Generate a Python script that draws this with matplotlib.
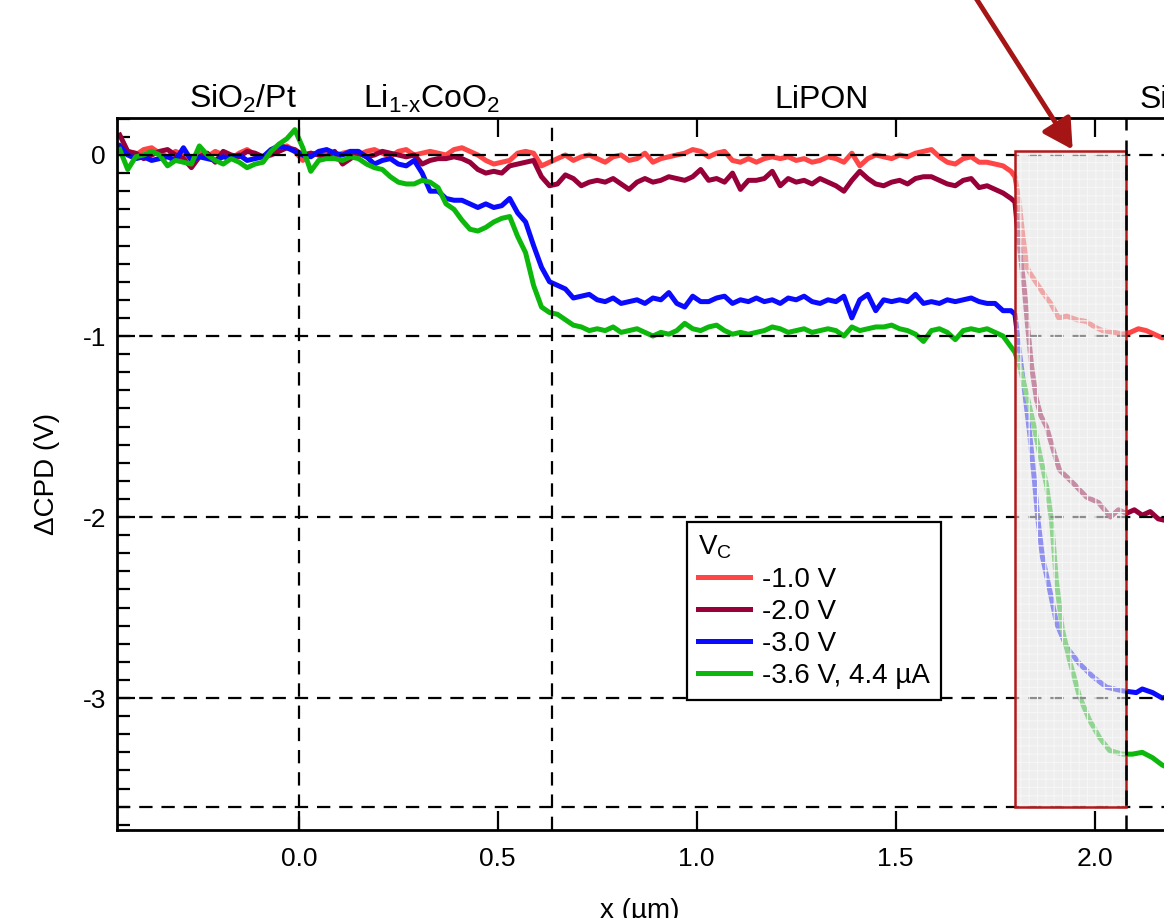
import numpy as np
import matplotlib
matplotlib.use("Agg")
import matplotlib.pyplot as plt
from matplotlib.patches import Rectangle
from matplotlib.ticker import MultipleLocator, FuncFormatter

plt.rcParams['font.family'] = ['Liberation Sans', 'DejaVu Sans']
plt.rcParams['mathtext.fontset'] = 'custom'
plt.rcParams['mathtext.rm'] = 'Liberation Sans'
plt.rcParams['mathtext.it'] = 'Liberation Sans:italic'
plt.rcParams['mathtext.default'] = 'regular'
plt.rcParams['axes.unicode_minus'] = False
plt.rcParams['hatch.linewidth'] = 0.8

# --- data (x in um, dCPD in V) ---
# flat part sampled every 0.02 um from -0.45 to 1.79
x_flat = np.linspace(-0.45, 1.79, 113)

red_flat = [0.05, 0.02, 0.00, 0.03, 0.04, 0.01, -0.01, 0.02, 0.00, -0.02,
            0.01, -0.01, 0.02, 0.00, -0.02, 0.01, 0.03, 0.00, -0.01, 0.02,
            0.04, 0.05, 0.02, -0.03, 0.01, 0.00, 0.02, -0.01, 0.01, 0.02,
            0.00, 0.02, 0.03, 0.01, -0.01, 0.02, 0.03, 0.00, 0.01, 0.02,
            0.01, 0.00, 0.03, 0.04, 0.02, 0.00, -0.03, -0.05, -0.04, -0.03,
            0.01, 0.02, 0.01, -0.06, -0.04, -0.02, 0.00, -0.03, -0.01, 0.00,
            -0.02, -0.04, -0.01, 0.00, -0.03, -0.02, 0.01, -0.04, -0.02, -0.01,
            0.00, 0.01, 0.03, 0.02, -0.01, 0.01, 0.02, -0.03, -0.04, -0.02,
            -0.04, -0.02, -0.01, -0.02, -0.01, -0.03, -0.02, -0.04, -0.03, -0.01,
            -0.02, -0.04, 0.01, -0.06, -0.02, 0.00, -0.01, -0.02, 0.00, -0.01,
            0.01, 0.02, 0.03, -0.01, -0.04, -0.05, -0.02, -0.01, -0.04, -0.04,
            -0.05, -0.06, -0.09]
red_tail_x = [1.80, 1.81, 1.82, 1.83, 1.84, 1.87, 1.89, 1.91, 1.93, 1.955,
              1.98, 2.00, 2.02, 2.05, 2.07, 2.09, 2.11, 2.13, 2.15, 2.17, 2.19]
red_tail_y = [-0.12, -0.25, -0.45, -0.62, -0.66, -0.76, -0.82, -0.90, -0.89, -0.91,
              -0.92, -0.95, -0.97, -0.98, -0.99, -0.98, -0.96, -0.97, -0.99, -1.01, -1.00]

maroon_flat = [0.11, 0.02, 0.01, -0.02, 0.00, 0.02, 0.03, 0.00, -0.02, -0.07,
               -0.01, 0.01, -0.04, 0.02, 0.00, -0.01, 0.02, 0.01, -0.01, 0.00,
               0.02, 0.04, 0.03, 0.00, 0.01, 0.00, -0.01, 0.02, -0.05, -0.02,
               0.01, -0.01, 0.00, 0.02, 0.01, 0.00, -0.01, 0.00, -0.05, -0.03,
               -0.02, -0.02, -0.01, -0.02, -0.04, -0.08, -0.10, -0.09, -0.10, -0.06,
               -0.05, -0.04, -0.03, -0.12, -0.17, -0.16, -0.11, -0.13, -0.17, -0.15,
               -0.14, -0.15, -0.13, -0.16, -0.19, -0.15, -0.13, -0.15, -0.14, -0.12,
               -0.13, -0.14, -0.12, -0.08, -0.14, -0.13, -0.15, -0.10, -0.19, -0.14,
               -0.14, -0.13, -0.09, -0.17, -0.13, -0.15, -0.14, -0.16, -0.13, -0.15,
               -0.17, -0.20, -0.14, -0.09, -0.13, -0.16, -0.17, -0.15, -0.14, -0.16,
               -0.13, -0.12, -0.12, -0.14, -0.16, -0.17, -0.14, -0.13, -0.18, -0.17,
               -0.19, -0.21, -0.24]
maroon_tail_x = [1.80, 1.805, 1.812, 1.824, 1.832, 1.842, 1.854, 1.865, 1.879, 1.899,
                 1.912, 1.945, 1.98, 2.01, 2.04, 2.06, 2.08, 2.10, 2.12, 2.14, 2.16, 2.18]
maroon_tail_y = [-0.26, -0.38, -0.52, -0.75, -0.95, -1.17, -1.35, -1.44, -1.50, -1.65,
                 -1.74, -1.81, -1.89, -1.92, -2.00, -1.96, -1.98, -1.96, -1.99, -1.97, -2.01, -2.02]

blue_flat = [0.05, 0.00, -0.02, -0.01, -0.03, -0.02, -0.01, -0.03, 0.04, -0.03,
             -0.01, -0.02, -0.03, -0.01, -0.02, 0.00, -0.03, -0.02, -0.01, 0.03,
             0.05, 0.04, 0.02, 0.00, -0.01, 0.02, 0.03, 0.01, 0.00, 0.02,
             0.02, -0.01, -0.05, -0.03, -0.02, -0.05, -0.06, -0.03, -0.10, -0.20,
             -0.20, -0.24, -0.25, -0.25, -0.27, -0.29, -0.27, -0.29, -0.28, -0.24,
             -0.32, -0.37, -0.50, -0.62, -0.70, -0.72, -0.74, -0.79, -0.78, -0.77,
             -0.80, -0.81, -0.79, -0.82, -0.81, -0.80, -0.82, -0.79, -0.80, -0.76,
             -0.82, -0.84, -0.78, -0.81, -0.81, -0.79, -0.78, -0.82, -0.80, -0.81,
             -0.79, -0.81, -0.80, -0.82, -0.79, -0.80, -0.78, -0.81, -0.82, -0.80,
             -0.81, -0.78, -0.90, -0.80, -0.77, -0.86, -0.80, -0.81, -0.80, -0.81,
             -0.77, -0.82, -0.81, -0.82, -0.80, -0.81, -0.80, -0.79, -0.81, -0.82,
             -0.82, -0.86, -0.86]
blue_tail_x = [1.80, 1.812, 1.825, 1.837, 1.849, 1.857, 1.869, 1.887, 1.905, 1.93,
               1.962, 1.995, 2.03, 2.07, 2.105, 2.12, 2.146, 2.17, 2.19]
blue_tail_y = [-0.88, -1.10, -1.32, -1.54, -1.80, -2.00, -2.22, -2.40, -2.59, -2.72,
               -2.81, -2.88, -2.94, -2.96, -2.97, -2.95, -2.97, -3.00, -2.99]

green_flat = [0.03, -0.08, -0.01, 0.00, 0.02, 0.00, -0.06, -0.03, -0.04, -0.05,
              0.05, 0.00, -0.03, -0.05, -0.02, -0.04, -0.07, -0.05, -0.04, 0.02,
              0.06, 0.09, 0.14, 0.04, -0.09, -0.03, -0.02, -0.02, -0.03, -0.01,
              -0.02, -0.05, -0.07, -0.08, -0.12, -0.15, -0.16, -0.16, -0.14, -0.15,
              -0.18, -0.27, -0.30, -0.36, -0.41, -0.42, -0.40, -0.37, -0.35, -0.34,
              -0.45, -0.54, -0.72, -0.84, -0.87, -0.88, -0.91, -0.94, -0.95, -0.97,
              -0.96, -0.97, -0.95, -0.98, -0.97, -0.96, -0.98, -1.00, -0.98, -0.99,
              -0.97, -0.93, -0.96, -0.97, -0.95, -0.94, -0.97, -0.99, -0.98, -0.99,
              -0.98, -0.97, -0.95, -0.96, -0.98, -0.97, -0.96, -0.98, -0.97, -0.96,
              -0.97, -1.00, -0.95, -0.97, -0.96, -0.95, -0.95, -0.94, -0.96, -0.97,
              -0.99, -1.03, -0.97, -0.96, -0.98, -1.02, -0.97, -0.96, -0.97, -0.96,
              -0.98, -1.00, -1.06]
green_tail_x = [1.80, 1.812, 1.829, 1.844, 1.862, 1.879, 1.892, 1.904, 1.919, 1.937,
                1.962, 1.987, 2.013, 2.038, 2.07, 2.095, 2.12, 2.146, 2.17, 2.19]
green_tail_y = [-1.09, -1.17, -1.32, -1.46, -1.65, -1.82, -2.02, -2.35, -2.62, -2.79,
                -2.99, -3.12, -3.22, -3.29, -3.31, -3.31, -3.30, -3.33, -3.37, -3.39]

labels = ["-1.0 V", "-2.0 V", "-3.0 V", "-3.6 V, 4.4 µA"]
colors = ["#ff4646", "#98003a", "#0a0aff", "#0cb80c"]

layer_names = ["SiO$_2$/Pt", r"Li$_{1\text{-}x}$CoO$_2$", "LiPON", "Si"]
layer_x = [-0.14, 0.334, 1.314, 2.113]
layer_ha = ["center", "center", "center", "left"]

hlines = [0, -1, -2, -3, -3.6]
vlines = [0, 0.636]
box_x = (1.799, 2.078)
box_y = (-3.6, 0.02)

# --- figur ---
fig = plt.figure(figsize=(11.64, 9.18), dpi=100)
ax = fig.add_axes([117 / 1164, 88 / 918, 1077 / 1164, 712 / 918])
ax.set_xlim(-0.457, 2.25)
ax.set_ylim(-3.729, 0.2044)

series = [(red_flat, red_tail_x, red_tail_y),
          (maroon_flat, maroon_tail_x, maroon_tail_y),
          (blue_flat, blue_tail_x, blue_tail_y),
          (green_flat, green_tail_x, green_tail_y)]
handles = []
for (flat, tx, ty), c, lab in zip(series, colors, labels):
    xs = np.concatenate([x_flat, tx])
    ys = np.concatenate([flat, ty])
    h, = ax.plot(xs, ys, color=c, lw=3.6, label=lab, zorder=2,
                 solid_joinstyle='round')
    handles.append(h)

dash = (0, (6, 4))
for y in hlines:
    ax.axhline(y, color='black', lw=1.6, ls=dash, zorder=3)
for x in vlines:
    ax.axvline(x, color='black', lw=1.6, ls=dash, zorder=3)

# graa boks over overgangen
w = box_x[1] - box_x[0]
h = box_y[1] - box_y[0]
ax.add_patch(Rectangle((box_x[0], box_y[0]), w, h, facecolor='#e4e4e4',
                       alpha=0.62, edgecolor='none', zorder=4))
ax.add_patch(Rectangle((box_x[0], box_y[0]), w, h, fill=False, hatch='++',
                       edgecolor='#f6f6f6', lw=0, zorder=4.1))
ax.add_patch(Rectangle((box_x[0], box_y[0]), w, h, fill=False,
                       edgecolor='#b3191b', lw=1.8, zorder=4.2))
ax.axvline(box_x[1], color='black', lw=1.8, ls=dash, zorder=4.5)

# pil
ax.annotate('', xy=(1.945, 0.03), xytext=(1.698, 0.88),
            arrowprops=dict(arrowstyle='-|>,head_length=0.9,head_width=0.5',
                            color='#a51515', lw=3.5, mutation_scale=20,
                            shrinkA=0, shrinkB=0),
            annotation_clip=False, zorder=6)

for name, x, ha in zip(layer_names, layer_x, layer_ha):
    ax.text(x, 1.014, name, transform=ax.get_xaxis_transform(), ha=ha,
            va='baseline', fontsize=23, clip_on=False)

# akser
for side in ['left', 'top', 'bottom', 'right']:
    ax.spines[side].set_linewidth(2)
ax.xaxis.set_major_locator(MultipleLocator(0.5))
ax.xaxis.set_major_formatter(FuncFormatter(lambda v, p: f"{v:.1f}"))
ax.yaxis.set_major_locator(MultipleLocator(1))
ax.yaxis.set_minor_locator(MultipleLocator(0.1))
ax.yaxis.set_major_formatter(FuncFormatter(lambda v, p: str(int(round(v)))))
ax.tick_params(axis='x', which='major', direction='in', top=True, length=14,
               width=1.6, labelsize=19, pad=12)
ax.tick_params(axis='y', which='major', direction='in', right=False, length=13,
               width=1.6, labelsize=19, pad=8)
ax.tick_params(axis='y', which='minor', direction='in', right=False, length=9,
               width=1.6)

ax.set_ylabel("ΔCPD (V)", fontsize=20, labelpad=16)
fig.text(640 / 1164, 1 - 898 / 918, "x (µm)", ha='center', va='top', fontsize=20)

leg = ax.legend(handles=handles, title="V$_C$", loc='upper left',
                bbox_to_anchor=(687 / 1164, 1 - 522 / 918),
                bbox_transform=fig.transFigure, fontsize=20, title_fontsize=20,
                frameon=True, fancybox=False, edgecolor='black', framealpha=1,
                handlelength=1.85, handletextpad=0.45, labelspacing=0.22,
                borderpad=0.4, borderaxespad=0, alignment='left')
leg.get_frame().set_linewidth(1.6)
leg.set_zorder(7)

fig.savefig("out.png", dpi=100)
